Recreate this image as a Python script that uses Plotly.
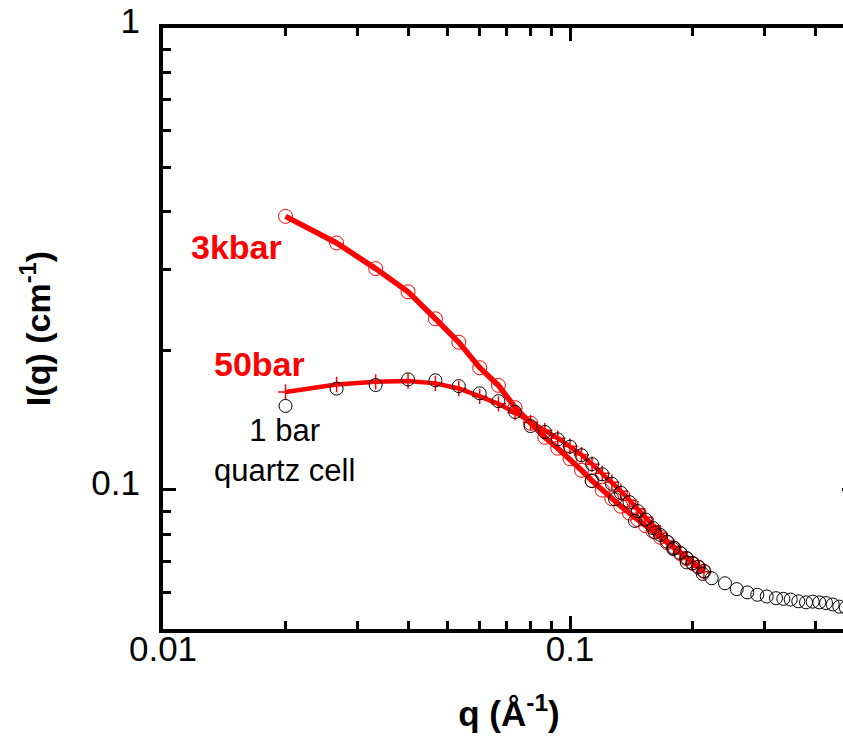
import plotly.graph_objects as go

# ---- data ----
q_low = [0.0200, 0.0267, 0.0333, 0.0400, 0.0467, 0.0533, 0.0600, 0.0667, 0.0733, 0.0800,
         0.0867, 0.0933, 0.1000, 0.1067, 0.1133, 0.1200, 0.1267, 0.1333, 0.1400, 0.1467,
         0.1533, 0.1600, 0.1667, 0.1733, 0.1800, 0.1867, 0.1933, 0.2000, 0.2067, 0.2133]

I_1bar_low = [0.1520, 0.1657, 0.1687, 0.1735, 0.1727, 0.1678, 0.1619, 0.1557, 0.1475, 0.1375,
              0.1335, 0.1287, 0.1241, 0.1189, 0.1137, 0.1081, 0.1031, 0.0986, 0.0941, 0.0900,
              0.0863, 0.0827, 0.0799, 0.0773, 0.0750, 0.0730, 0.0712, 0.0694, 0.0681, 0.0667]

I_3kbar = [0.3910, 0.3425, 0.3014, 0.2685, 0.2347, 0.2088, 0.1839, 0.1684, 0.1507, 0.1394,
           0.1300, 0.1231, 0.1168, 0.1103, 0.1047, 0.0999, 0.0957, 0.0922, 0.0891, 0.0863,
           0.0837, 0.0814, 0.0790, 0.0769, 0.0748, 0.0728, 0.0710, 0.0694, 0.0681, 0.0667]

I_50bar = [0.1629, 0.1692, 0.1714, 0.1721, 0.1701, 0.1658, 0.1594, 0.1536, 0.1470, 0.1400,
           0.1346, 0.1294, 0.1243, 0.1192, 0.1137, 0.1087, 0.1039, 0.0994, 0.0950, 0.0911,
           0.0873, 0.0837, 0.0806, 0.0775, 0.0754, 0.0732, 0.0712, 0.0694, 0.0680, 0.0665]

q_1bar_high = [0.1131, 0.1290, 0.1444, 0.1617, 0.1794, 0.1935, 0.2118, 0.2229, 0.2403, 0.2568,
               0.2727, 0.2885, 0.3043, 0.3207, 0.3343, 0.3485, 0.3638, 0.3801, 0.3948, 0.4097,
               0.4256, 0.4421, 0.4589, 0.4760, 0.4930]
I_1bar_high = [0.1046, 0.0955, 0.0857, 0.0809, 0.0745, 0.0697, 0.0658, 0.0644, 0.0628, 0.0610,
               0.0600, 0.0593, 0.0588, 0.0583, 0.0581, 0.0579, 0.0574, 0.0571, 0.0573, 0.0571,
               0.0569, 0.0565, 0.0559, 0.0556, 0.0553]

x_major = [0.01, 0.1]
x_major_labels = ["0.01", "0.1"]
x_minor = [0.02, 0.03, 0.04, 0.05, 0.06, 0.07, 0.08, 0.09, 0.2, 0.3, 0.4, 0.5]
y_major = [0.1, 1]
y_major_labels = ["0.1", "1"]
y_minor = [0.06, 0.07, 0.08, 0.09, 0.2, 0.3, 0.4, 0.5, 0.6, 0.7, 0.8, 0.9]

# axis window (log10 units): q from 0.01 to 0.5, I from 0.05 to 1
x_range_log = [-2.0, -0.2998]
y_range_log = [-1.30103, 0.0]

RED = "#ff0000"
FONT = "Liberation Sans, Arial, sans-serif"

fig = go.Figure()

# 3 kbar: thick line + open circles
fig.add_trace(go.Scatter(
    x=q_low, y=I_3kbar, mode="lines+markers",
    line=dict(color=RED, width=5.5),
    marker=dict(symbol="circle-open", size=14, color=RED, line=dict(width=1, color=RED)),
    showlegend=False))

# 50 bar: line + thin crosses
fig.add_trace(go.Scatter(
    x=q_low, y=I_50bar, mode="lines+markers",
    line=dict(color=RED, width=4.5),
    marker=dict(symbol="cross-thin-open", size=11, color=RED, line=dict(width=1.5, color=RED)),
    showlegend=False))

# 1 bar quartz cell: black open circles
fig.add_trace(go.Scatter(
    x=q_low + q_1bar_high, y=I_1bar_low + I_1bar_high, mode="markers",
    marker=dict(symbol="circle-open", size=13, color="black", line=dict(width=1, color="black")),
    showlegend=False))

axis_common = dict(
    type="log", showgrid=False, zeroline=False, automargin=False,
    showline=True, linecolor="black", linewidth=4, mirror="ticks",
    ticks="inside", ticklen=13, tickwidth=3, tickcolor="black",
    tickfont=dict(family=FONT, size=35, color="black"),
    tickmode="array", ticklabeloverflow="allow",
)

fig.update_xaxes(
    **axis_common,
    range=x_range_log,
    tickvals=x_major, ticktext=x_major_labels,
    ticklabelstandoff=-14,
    minor=dict(tickmode="array", tickvals=x_minor, ticks="inside", ticklen=8,
               tickwidth=3, tickcolor="black", showgrid=False),
    title=dict(text="<b>q (Å<sup>-1</sup>)</b>", font=dict(family=FONT, size=35, color="black"),
               standoff=35),
)
fig.update_yaxes(
    **axis_common,
    range=y_range_log,
    tickvals=y_major, ticktext=y_major_labels,
    ticklabelstandoff=12,
    ticklabelshift=-7,
    minor=dict(tickmode="array", tickvals=y_minor, ticks="inside", ticklen=8,
               tickwidth=3, tickcolor="black", showgrid=False),
    title=dict(text="<b>I(q) (cm<sup>-1</sup>)</b>", font=dict(family=FONT, size=34, color="black"),
               standoff=31),
)

fig.add_annotation(x=-1.8206, y=-0.4733, text="<b>3kbar</b>",
                   showarrow=False, font=dict(family=FONT, size=34, color=RED))
fig.add_annotation(x=-1.7617, y=-0.7283, text="<b>50bar</b>",
                   showarrow=False, font=dict(family=FONT, size=34, color=RED))
fig.add_annotation(x=-1.7010, y=-0.9140, text="1 bar<br>quartz cell",
                   showarrow=False, font=dict(family=FONT, size=31, color="black"),
                   align="center")

fig.update_layout(
    width=855, height=737,
    margin=dict(l=163, r=0, t=28, b=108),
    paper_bgcolor="white", plot_bgcolor="white",
    showlegend=False,
)

# the original picture is cut at its right edge: let the page clip the frame there
fig.write_html(
    "out.html",
    config={"displayModeBar": False},
    post_script=("document.documentElement.style.overflow='hidden';"
                 "document.body.style.overflow='hidden';"
                 "document.body.style.margin='0';"),
)
